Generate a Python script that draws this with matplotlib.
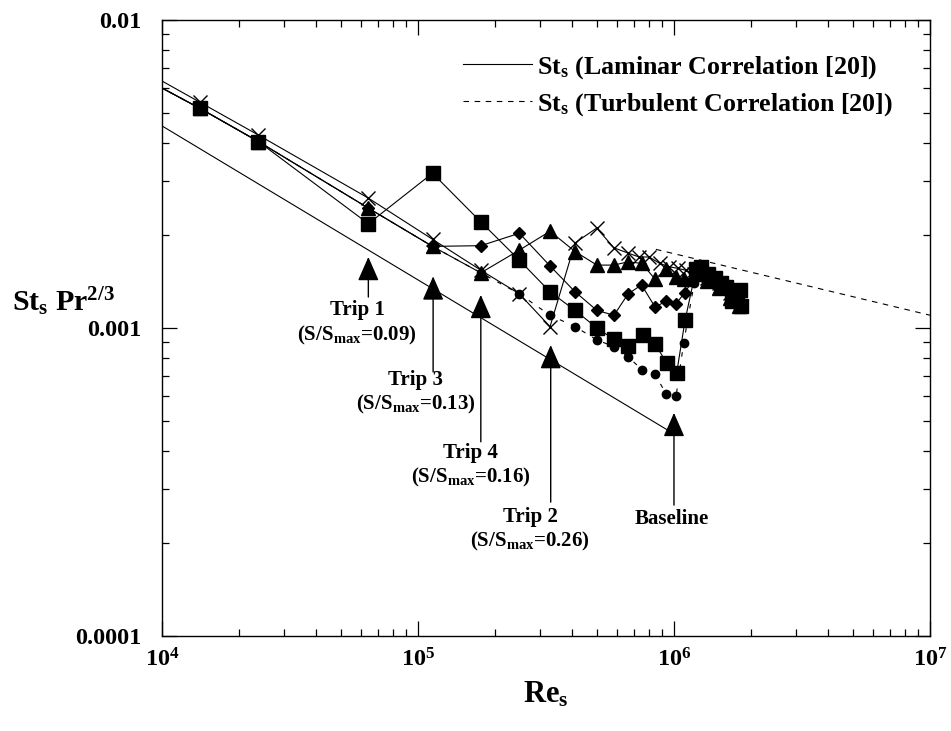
import numpy as np
import matplotlib
matplotlib.use('Agg')
import matplotlib.pyplot as plt
from matplotlib.ticker import FixedLocator, FixedFormatter, NullFormatter, LogLocator

# fonts: bold Times-like everywhere, also inside mathtext
plt.rcParams['font.family'] = 'Liberation Serif'
plt.rcParams['font.weight'] = 'bold'
plt.rcParams['mathtext.fontset'] = 'custom'
plt.rcParams['mathtext.rm'] = 'Liberation Serif:bold'
plt.rcParams['mathtext.it'] = 'Liberation Serif:italic:bold'
plt.rcParams['mathtext.bf'] = 'Liberation Serif:bold'
plt.rcParams['mathtext.default'] = 'rm'

# ---- data ----
# squares
sq_re = [8e3, 1.41e4, 2.38e4, 6.4e4, 1.14e5, 1.76e5, 2.49e5, 3.28e5, 4.11e5, 5.0e5,
         5.83e5, 6.62e5, 7.58e5, 8.43e5, 9.36e5, 1.025e6, 1.105e6, 1.22e6, 1.28e6,
         1.36e6, 1.44e6, 1.52e6, 1.6e6, 1.68e6, 1.76e6, 1.81e6, 1.82e6]
sq_st = [0.00664, 0.00516, 0.00403, 0.00218, 0.00318, 0.00221, 0.00166, 0.00131, 0.00114, 0.00100,
         0.000918, 0.000875, 0.000948, 0.000887, 0.000771, 0.000716, 0.00106, 0.00155, 0.00158,
         0.0015, 0.00145, 0.0014, 0.00136, 0.00122, 0.00125, 0.00133, 0.00118]

# triangles
tri_re = [8e3, 1.41e4, 2.38e4, 6.4e4, 1.14e5, 1.76e5, 2.49e5, 3.28e5, 4.11e5, 5.0e5, 5.83e5,
          6.62e5, 7.5e5, 8.43e5, 9.3e5, 1.02e6, 1.09e6, 1.2e6, 1.35e6, 1.5e6, 1.65e6, 1.8e6]
tri_st = [0.00664, 0.00516, 0.00403, 0.00245, 0.00184, 0.00151, 0.00179, 0.00206, 0.00177, 0.0016, 0.0016,
          0.00164, 0.00162, 0.00144, 0.00155, 0.00146, 0.00144, 0.0015, 0.00142, 0.00135, 0.00125, 0.00118]

# diamonds
dia_re = [8e3, 1.41e4, 2.38e4, 6.4e4, 1.14e5, 1.76e5, 2.49e5, 3.28e5, 4.11e5, 5.0e5, 5.83e5,
          6.62e5, 7.47e5, 8.43e5, 9.3e5, 1.02e6, 1.1e6, 1.2e6, 1.35e6, 1.5e6, 1.7e6, 1.8e6]
dia_st = [0.00664, 0.00516, 0.00403, 0.00245, 0.00184, 0.00185, 0.00203, 0.00159, 0.00131, 0.00114, 0.0011,
          0.00129, 0.00138, 0.00117, 0.00122, 0.0012, 0.0013, 0.00145, 0.00142, 0.00138, 0.00125, 0.0012]

# circles
cir_re = [8e3, 1.41e4, 2.38e4, 6.4e4, 1.14e5, 1.76e5, 2.49e5, 3.28e5, 4.11e5, 5.0e5, 5.83e5,
          6.62e5, 7.5e5, 8.43e5, 9.3e5, 1.02e6, 1.09e6, 1.2e6, 1.35e6, 1.5e6, 1.65e6, 1.8e6]
cir_st = [0.00664, 0.00516, 0.00403, 0.00245, 0.00184, 0.00151, 0.00129, 0.0011, 0.00101, 0.000914, 0.00087,
          0.000807, 0.000731, 0.00071, 0.000611, 0.000603, 0.000891, 0.0014, 0.0014, 0.00135, 0.0013, 0.0012]

# crosses
crs_re = [8e3, 1.41e4, 2.38e4, 6.4e4, 1.14e5, 1.76e5, 2.49e5, 3.28e5, 4.11e5, 4.99e5, 5.83e5,
          6.62e5, 7.3e5, 8.0e5, 8.8e5, 9.6e5, 1.04e6, 1.11e6, 1.2e6, 1.35e6, 1.5e6, 1.65e6, 1.8e6]
crs_st = [0.00703, 0.0054, 0.00423, 0.00264, 0.00194, 0.00154, 0.00129, 0.00101, 0.00189, 0.00211, 0.00182,
          0.00175, 0.0017, 0.0017, 0.00162, 0.00158, 0.00156, 0.00154, 0.0015, 0.00145, 0.0014, 0.0013, 0.00125]

# correlations
lam_re = [1e4, 1e6]
lam_st = [0.00453, 0.000453]
turb_re = [8.5e5, 1e7]
turb_st = [0.0018, 0.0011]

# trip / baseline markers
trip_labels = ['Trip 1\n(S/S$_{max}$=0.09)', 'Trip 3\n(S/S$_{max}$=0.13)',
               'Trip 4\n(S/S$_{max}$=0.16)', 'Trip 2\n(S/S$_{max}$=0.26)', 'Baseline']
trip_re = [6.4e4, 1.146e5, 1.76e5, 3.3e5, 1.0e6]
trip_tip = [0.0017, 0.00147, 0.00128, 0.00088, 0.00053]
trip_tail = [0.00126, 0.00072, 0.000427, 0.000272, 0.000266]
trip_text_re = [5.79e4, 9.8e4, 1.61e5, 2.74e5, 9.8e5]
trip_text_st = [0.00123, 0.000731, 0.000424, 0.000263, 0.000258]

fig = plt.figure(figsize=(9.51, 7.31), dpi=100)
ax = fig.add_axes([0.1703, 0.1300, 0.8076, 0.8427])

lw = 0.8
ax.plot(lam_re, lam_st, 'k-', lw=lw, label=r'St$_s$ (Laminar Correlation [20])')
ax.plot(turb_re, turb_st, 'k--', lw=lw, dashes=(5, 5), label=r'St$_s$ (Turbulent Correlation [20])')

ax.plot(cir_re, cir_st, 'k', lw=lw, ls=(0, (4, 7)), marker='o', ms=6)
ax.plot(dia_re, dia_st, 'k-', lw=lw, marker='D', ms=6.5)
ax.plot(tri_re, tri_st, 'k-', lw=lw, marker='^', ms=10)
ax.plot(crs_re, crs_st, 'k-', lw=lw, marker='x', ms=10, mew=1.0)
ax.plot(sq_re, sq_st, 'k-', lw=lw, marker='s', ms=10)

for lab, x, tip, tail, tx, ty in zip(trip_labels, trip_re, trip_tip, trip_tail,
                                      trip_text_re, trip_text_st):
    ax.annotate('', xy=(x, tip), xytext=(x, tail),
                arrowprops=dict(arrowstyle='-|>,head_length=0.75,head_width=0.33',
                                color='black', lw=1.0, mutation_scale=20,
                                shrinkA=0, shrinkB=0))
    ax.text(tx, ty, lab, ha='center', va='top', multialignment='center',
            fontsize=15, fontweight='bold')

ax.set_xscale('log')
ax.set_yscale('log')
ax.set_xlim(1e4, 1e7)
ax.set_ylim(1e-4, 1e-2)

ax.xaxis.set_major_locator(FixedLocator([1e4, 1e5, 1e6, 1e7]))
ax.xaxis.set_major_formatter(FixedFormatter([r'$10^4$', r'$10^5$', r'$10^6$', r'$10^7$']))
ax.yaxis.set_major_locator(FixedLocator([1e-4, 1e-3, 1e-2]))
ax.yaxis.set_major_formatter(FixedFormatter(['0.0001', '0.001', '0.01']))
for a in (ax.xaxis, ax.yaxis):
    a.set_minor_locator(LogLocator(base=10, subs=np.arange(2, 10)))
    a.set_minor_formatter(NullFormatter())

ax.tick_params(which='both', direction='in', top=True, right=True, width=0.9)
ax.tick_params(which='major', length=10.5, labelsize=17.5)
ax.tick_params(which='minor', length=5)
ax.tick_params(axis='y', which='major', pad=15)
ax.tick_params(axis='x', which='major', pad=9)
for s in ax.spines.values():
    s.set_linewidth(1.0)

ax.set_xlabel(r'Re$_s$', fontsize=22, fontweight='bold', labelpad=6)
fig.text(12 / 951, 1 - 311 / 731, r'St$_s$ Pr$^{2/3}$', fontsize=21.5, fontweight='bold',
         ha='left', va='baseline')

ax.legend(loc='upper left', bbox_to_anchor=(0.392, 0.945), frameon=False,
          fontsize=18.7, handlelength=2.65, handletextpad=0.2, labelspacing=0.4,
          borderpad=0, borderaxespad=0)

fig.savefig('out.png', dpi=100)
